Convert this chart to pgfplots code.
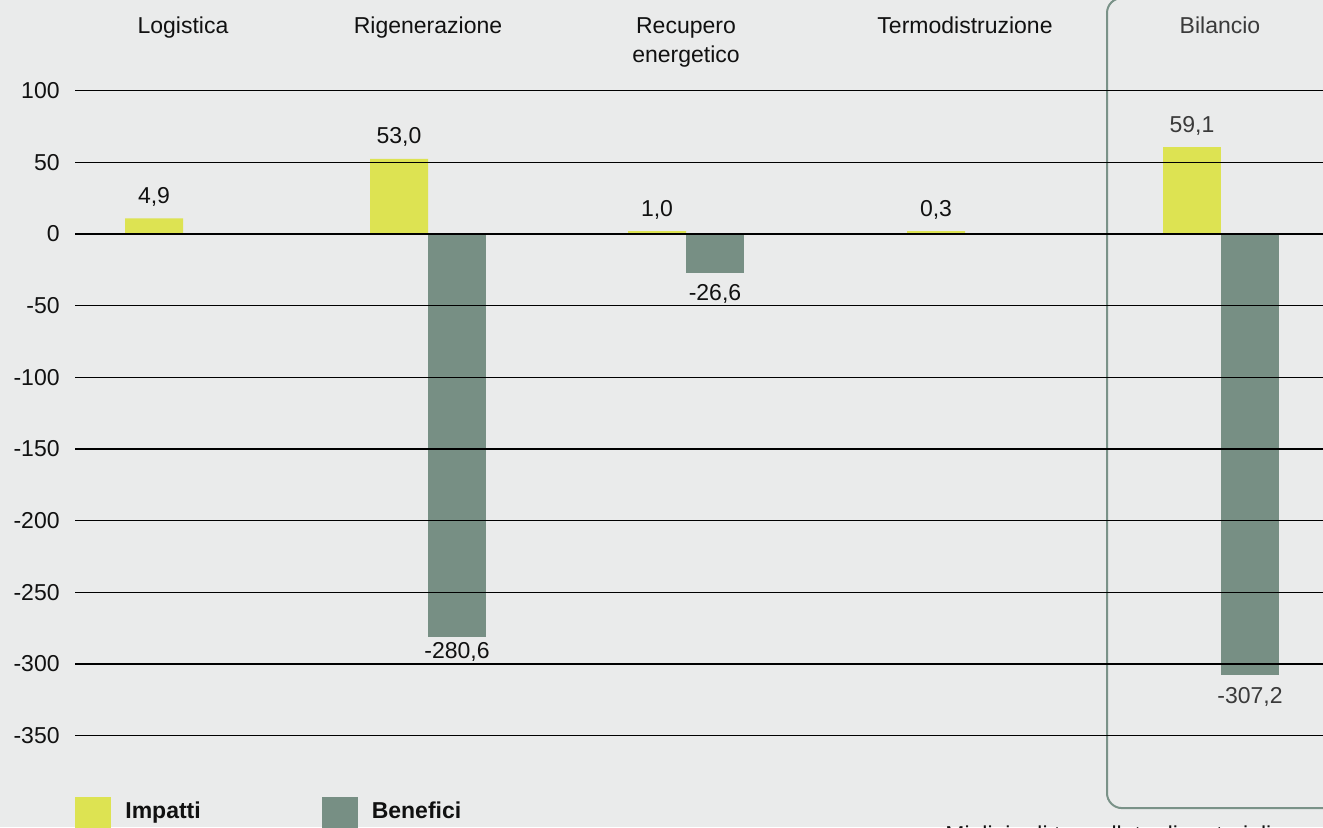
\documentclass[border=0pt]{standalone}
\usepackage{pgfplots}
\pgfplotsset{compat=1.18}
\usepackage{fontspec}
\setmainfont{Liberation Sans}
\definecolor{bg}{HTML}{EAEBEB}
\definecolor{impatti}{HTML}{DDE352}
\definecolor{benefici}{HTML}{778F84}
\definecolor{boxline}{HTML}{7A9288}
\definecolor{txt}{HTML}{111111}
\definecolor{txtg}{HTML}{3A3A3A}
\newcommand{\lbl}{\fontsize{11.5}{14}\selectfont}

\begin{document}
\begin{tikzpicture}
\useasboundingbox (0,0) rectangle (661.5pt,413.5pt);
\fill[bg] (0,0) rectangle (661.5pt,413.5pt);
\begin{axis}[
  at={(37.5pt,0pt)}, anchor=south west,
  x=0.5pt, y=0.7165pt,
  xmin=75, xmax=1323, ymin=-413.8, ymax=163.3,
  axis on top, clip=false,
  axis line style={draw=none},
  xtick=\empty,
  ytick={-350,-300,...,100},
  ymajorgrids, grid style={black, line width=0.6pt},
  major tick length=0pt,
  yticklabel style={font=\lbl, text=txt, anchor=east, inner sep=0pt, xshift=-7.5pt},
  /pgf/number format/assume math mode=true,
  ybar, bar width=58, bar shift=0pt,
  nodes near coords, point meta=explicit symbolic,
  every node near coord/.append style={font=\lbl, text=txt, inner xsep=0pt, inner ysep=5.75pt},
  legend columns=2,
  legend style={draw=none, fill=none, at={(axis cs:75,-405.4)}, anchor=west,
    inner sep=0pt, font=\fontsize{11.5}{14}\selectfont\bfseries, text=txt,
    nodes={inner sep=0pt},
    /tikz/every odd column/.append style={column sep=7pt},
    /tikz/every even column/.append style={column sep=60.5pt}},
]
% impatti
\addplot[fill=impatti, draw=none,
  legend image code/.code={\fill[impatti] (0pt,-10.5pt) rectangle (18pt,7.5pt);}]
  coordinates {(154,11) [{4,9}] (399,52.5) [{53,0}] (657,2) [{1,0}] (936,2) [{0,3}]};
\addlegendentry{Impatti}
% benefici
\addplot[fill=benefici, draw=none,
  every node near coord/.append style={anchor=north},
  legend image code/.code={\fill[benefici] (0pt,-10.5pt) rectangle (18pt,7.5pt);}]
  coordinates {(715,-27) [{-26,6}]};
\addlegendentry{Benefici}
\addplot[fill=benefici, draw=none, forget plot,
  every node near coord/.append style={anchor=north, inner ysep=2.5pt}]
  coordinates {(457,-281.5) [{-280,6}]};
% bilancio
\addplot[fill=impatti, draw=none, forget plot,
  every node near coord/.append style={text=txtg}]
  coordinates {(1192,60.5) [{59,1}]};
\addplot[fill=benefici, draw=none, forget plot,
  every node near coord/.append style={text=txtg, anchor=north}]
  coordinates {(1250,-308) [{-307,2}]};

\draw[boxline, line width=1pt, rounded corners=7.5pt]
  (axis cs:1107,164.7) rectangle (axis cs:1360,-400.6);

\node[font=\lbl, text=txt, anchor=base] at (axis cs:183,139.6) {Logistica};
\node[font=\lbl, text=txt, anchor=base] at (axis cs:428,139.6) {Rigenerazione};
\node[font=\lbl, text=txt, anchor=base] at (axis cs:686,139.6) {Recupero};
\node[font=\lbl, text=txt, anchor=base] at (axis cs:686,120.0) {energetico};
\node[font=\lbl, text=txt, anchor=base] at (axis cs:965,139.6) {Termodistruzione};
\node[font=\lbl, text=txtg, anchor=base] at (axis cs:1220,139.6) {Bilancio};
\node[font=\lbl, text=txt, anchor=base west, inner sep=0pt] at (axis cs:945,-424.3) {Migliaia di tonnellate di materiali};
\end{axis}
\end{tikzpicture}
\end{document}
